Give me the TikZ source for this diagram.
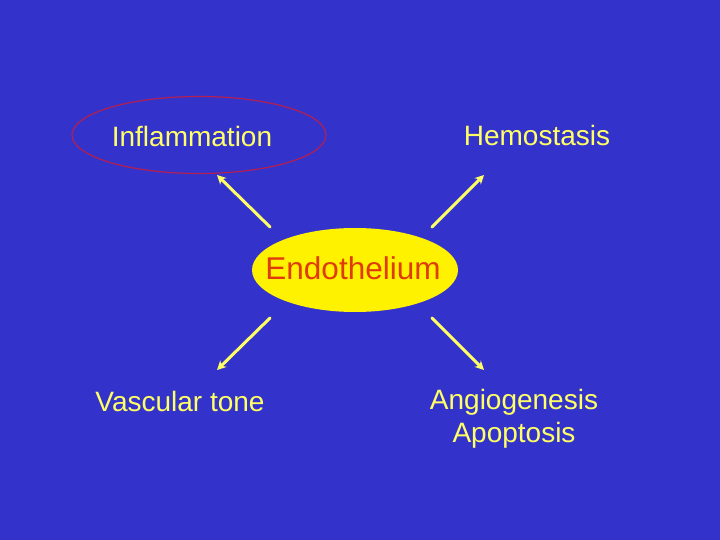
\documentclass[tikz,border=0pt]{standalone}
\usepackage{fontspec}
\setmainfont{Liberation Sans}
\usetikzlibrary{arrows.meta, shapes.geometric}

\definecolor{slideblue}{RGB}{51,51,204}
\definecolor{paleyellow}{RGB}{255,255,102}
\definecolor{endored}{RGB}{224,60,10}
\definecolor{ringred}{RGB}{180,30,80}

\begin{document}
\begin{tikzpicture}[x=1pt, y=-1pt,
		label/.style={text=paleyellow, font=\fontsize{28}{33}\selectfont, align=center, inner sep=0pt},
		ring/.style={ellipse, draw=ringred, line width=1.2pt, minimum width=254pt, minimum height=77pt},
		core/.style={ellipse, fill=yellow, text=endored, font=\fontsize{31.5}{36}\selectfont, minimum width=206pt, minimum height=84pt, inner sep=0pt},
		link/.style={draw=paleyellow, line width=3pt, line cap=round, -{Stealth[length=9pt, width=9pt]}}]
				\fill[slideblue] (0,0) rectangle (720,540);
				\useasboundingbox (0,0) rectangle (720,540);
				\node[ring] (ring) at (199,135) {};
				\node[label] (infl) at (192,136) {Inflammation};
				\node[label] (hemo) at (537,135) {Hemostasis};
				\node[core] (endo) at (355,270) {};
				\node[text=endored, font=\fontsize{31.5}{36}\selectfont, inner sep=0pt] (endotext) at (353,268) {Endothelium};
				\node[label] (vasc) at (180,401) {Vascular tone};
				\node[label] (angio) at (514,419) {Angiogenesis\\Apoptosis};
				\coordinate (ul0) at (270,227);
				\coordinate (ul1) at (217,175);
				\coordinate (ur0) at (432,227);
				\coordinate (ur1) at (484,175);
				\coordinate (ll0) at (270,318);
				\coordinate (ll1) at (217,370);
				\coordinate (lr0) at (432,318);
				\coordinate (lr1) at (484,370);
				\path[link] (ul0) -- (ul1);
				\path[link] (ur0) -- (ur1);
				\path[link] (ll0) -- (ll1);
				\path[link] (lr0) -- (lr1);
			\end{tikzpicture}
\end{document}
